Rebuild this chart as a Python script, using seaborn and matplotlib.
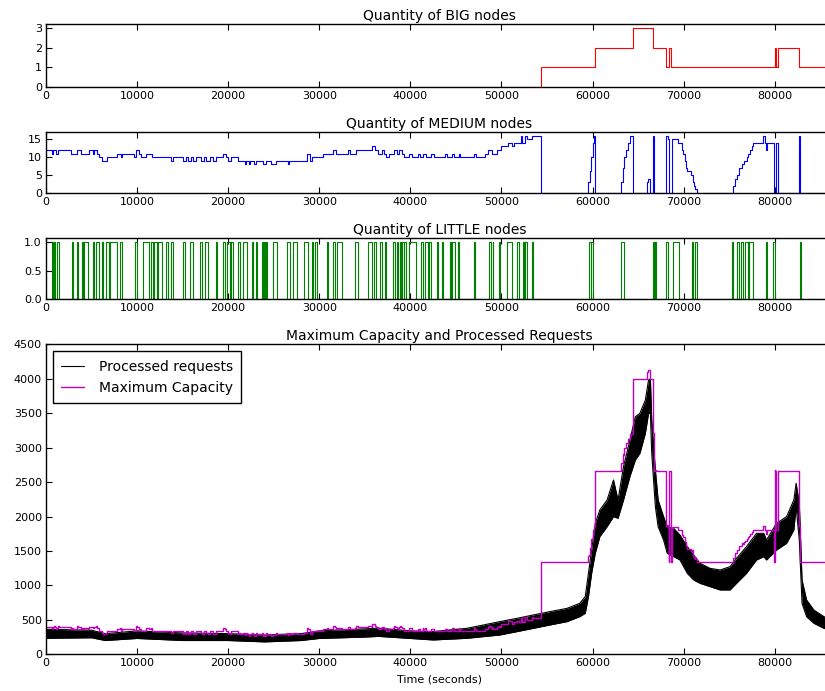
import numpy as np
import pandas as pd
import matplotlib
matplotlib.use('Agg')
import matplotlib.pyplot as plt
import seaborn as sns

# time axis (one day, seconds)
t_end = 86400

# BIG nodes: step change times and values
big_t = [0, 54300, 60320, 64420, 66690, 68040, 68450, 68650, 80000, 80150, 80350, 82720]
big_v = [0, 1, 2, 3, 2, 1, 2, 1, 2, 1, 2, 1]

# MEDIUM nodes: step change times and values
med_t = [0, 620, 800, 1100, 1350, 2750, 3440, 3810, 4760, 5120, 5270, 5560, 5860, 6150, 6660,
         7830, 8200, 8350, 9660, 9880, 10180, 10470, 10940, 11600, 13760, 13910, 15040, 15370,
         15560, 15890, 16100, 16500, 17000, 17400, 17600, 18000, 18300, 18700, 19400, 19800,
         20000, 20300, 21100, 21800, 22000, 22300, 22450, 22800, 23000, 23800, 24100, 24700,
         25200, 26600, 26700, 28700, 29000, 29200, 30400, 31550, 31800, 33100, 33400, 34000,
         35800, 36100, 36400, 36900, 37100, 37300, 37700, 38200, 38500, 38800, 39100, 39300,
         39900, 40200, 40800, 41100, 41400, 41700, 42300, 42600, 43800, 44000, 44600, 44800,
         45300, 45500, 47000, 47200, 48200, 48500, 49000, 49500, 50000, 50700, 51200, 51400,
         52100, 52300, 52600, 52800, 53400, 54300, 59550, 59700, 59850, 60000, 60150, 60320,
         63100, 63300, 63500, 63700, 63900, 64100, 64420, 65950, 66050, 66300, 66690, 66740,
         68040, 68300, 68440, 68700, 69360, 69800, 69950, 70100, 70270, 70420, 70790, 71010,
         71150, 71300, 71450, 75470, 75650, 75910, 76130, 76390, 76640, 76930, 77120, 77300,
         77480, 77670, 78690, 78950, 79060, 79130, 79970, 80150, 80350, 82720, 82760]
med_v = [12, 11, 12, 11, 12, 11, 12, 11, 12, 11, 12, 11, 10, 9, 10,
         11, 10, 11, 10, 12, 11, 10, 11, 10, 9, 10, 9, 10,
         9, 10, 9, 10, 9, 10, 9, 10, 9, 10, 11, 10,
         9, 10, 9, 8, 9, 8, 9, 8, 9, 8, 9, 8,
         9, 8, 9, 11, 9, 10, 11, 12, 11, 12, 11, 12,
         13, 12, 11, 12, 11, 10, 11, 12, 11, 12, 11, 10,
         11, 10, 11, 10, 11, 10, 11, 10, 11, 10, 11, 10,
         11, 10, 11, 10, 11, 12, 11, 12, 13, 14, 13, 14,
         16, 14, 16, 15, 16, 0, 3, 6, 10, 14, 16, 0,
         3, 7, 10, 12, 14, 16, 0, 3, 4, 0, 16, 0,
         16, 15, 0, 15, 14, 12, 11, 9, 7, 6, 5, 3,
         2, 1, 0, 2, 4, 5, 7, 8, 9, 10, 11, 12,
         13, 14, 16, 14, 12, 14, 0, 14, 0, 16, 0]

# LITTLE nodes: intervals (start, end) where one little node is active
little_on = [(620, 730), (880, 990), (1170, 1460), (2820, 2930), (3370, 3480), (3920, 4060),
             (4140, 4580), (5120, 5270), (5490, 5860), (6110, 6220), (6590, 6950), (7030, 7760),
             (8130, 8350), (9770, 9950), (10690, 11310), (11530, 11800), (11900, 12200),
             (12300, 12700), (13180, 13360), (13730, 13980), (15080, 15260), (15810, 16100),
             (16910, 17090), (17460, 17820), (18670, 18810), (19400, 19650), (19840, 20200),
             (20300, 20570), (21120, 21300), (21590, 22030), (22580, 22760), (23060, 23200),
             (23680, 23800), (23900, 24000), (24100, 24230), (24890, 25330), (26500, 26790),
             (27080, 27520), (28330, 28800), (29170, 29350), (29540, 29720), (30890, 31000),
             (31550, 31730), (31920, 32460), (33930, 34290), (35390, 35760), (36050, 36230),
             (36670, 36860), (37220, 37330), (38140, 38320), (38500, 38690), (38870, 39000),
             (39100, 39250), (39350, 39490), (39900, 40600), (41140, 41430), (41620, 41900),
             (42000, 42240), (42970, 43080), (43450, 43560), (44360, 44500), (44600, 44910),
             (45280, 45390), (47000, 47140), (48680, 48830), (49050, 49120), (49700, 49850),
             (50660, 51170), (51750, 51970), (52340, 52500), (52600, 52780), (53330, 53440),
             (59660, 59800), (59880, 60030), (63100, 63470), (66690, 66800), (66850, 66980),
             (68080, 68300), (68880, 69540), (70930, 71080), (71260, 71520), (75290, 75470),
             (75910, 76130), (76280, 76570), (76750, 77120), (77230, 77670), (79060, 79130),
             (79790, 80050), (82790, 82900)]

# capacity of one node of each type (requests)
cap_big = 1333
cap_medium = 33.3
cap_little = 11

# processed requests: band (upper / lower edge of the noisy trace)
req_t = [0, 5000, 6500, 10000, 15000, 20000, 24000, 28000, 30000, 35000,
         36500, 40000, 42500, 46200, 48000, 49800, 51700, 53500, 55300, 57200,
         58600, 59200, 59550, 59900, 60300, 60800, 61600, 62300, 62800, 63400,
         64100, 64700, 65200, 65800, 66150, 66350, 66500, 66900, 67200, 67800,
         68200, 68900, 69600, 70400, 71100, 71800, 72900, 74000, 75100, 75800,
         76900, 78000, 78800, 79100, 80200, 81300, 82100, 82350, 82700, 83000,
         83500, 84300, 85400, 86400]
req_hi = [363, 350, 300, 340, 310, 300, 280, 300, 340, 370,
          380, 340, 330, 377, 425, 474, 522, 571, 619, 667,
          740, 837, 1175, 1514, 1901, 2095, 2240, 2530, 2240, 2724,
          3110, 3449, 3498, 3691, 3982, 4000, 3400, 2675, 2240, 1998,
          1853, 1829, 1732, 1563, 1442, 1321, 1248, 1224, 1272, 1393,
          1563, 1756, 1756, 1659, 1901, 1998, 2240, 2482, 2192, 1079,
          789, 643, 547, 500]
req_lo = [232, 240, 200, 230, 200, 200, 180, 200, 230, 250,
          260, 230, 208, 232, 256, 280, 329, 377, 425, 474,
          547, 595, 837, 1175, 1466, 1708, 1853, 1998, 1974, 2240,
          2579, 2820, 2917, 3208, 3498, 3500, 2917, 2143, 1853, 1659,
          1466, 1418, 1369, 1175, 1079, 1030, 982, 934, 934, 1030,
          1175, 1369, 1418, 1369, 1514, 1611, 1805, 2143, 1659, 740,
          547, 450, 377, 340]


def steps(times, values):
    # extend a step series to the end of the day
    return list(times) + [t_end], list(values) + [values[-1]]


def step_lookup(times, values, grid):
    idx = np.searchsorted(np.asarray(times), grid, side='right') - 1
    return np.asarray(values)[idx]


little_t = [0]
little_v = [0]
for s, e in little_on:
    little_t += [s, e]
    little_v += [1, 0]

big_x, big_y = steps(big_t, big_v)
med_x, med_y = steps(med_t, med_v)
lit_x, lit_y = steps(little_t, little_v)

# maximum capacity from the node counts
grid = np.unique(np.concatenate([big_t, med_t, little_t]))
capacity = (cap_big * step_lookup(big_t, big_v, grid)
            + cap_medium * step_lookup(med_t, med_v, grid)
            + cap_little * step_lookup(little_t, little_v, grid))
cap_x, cap_y = steps(grid, capacity)

sns.set_style('white', rc={
    'axes.edgecolor': 'black', 'text.color': 'black', 'axes.labelcolor': 'black',
    'xtick.color': 'black', 'ytick.color': 'black',
    'xtick.direction': 'in', 'ytick.direction': 'in',
    'xtick.bottom': True, 'xtick.top': True, 'ytick.left': True, 'ytick.right': True,
})
plt.rcParams['font.family'] = ['DejaVu Sans']

fig = plt.figure(figsize=(8.25, 6.91), dpi=100)
W, H = 825.0, 691.0
left = 46 / W
width = (833 - 46) / W


def make_ax(top_px, bottom_px):
    return fig.add_axes([left, 1 - bottom_px / H, width, (bottom_px - top_px) / H])


ax1 = make_ax(24.3, 87)
ax2 = make_ax(131.7, 193)
ax3 = make_ax(238.3, 299.3)
ax4 = make_ax(344.3, 654.3)

lw = 0.8

sns.lineplot(x=big_x, y=big_y, ax=ax1, color='red', lw=lw, drawstyle='steps-post', errorbar=None)
ax1.set_ylim(0, 3.2)
ax1.set_yticks([0, 1, 2, 3])
ax1.set_title('Quantity of BIG nodes', fontsize=10, pad=3)

sns.lineplot(x=med_x, y=med_y, ax=ax2, color='blue', lw=lw, drawstyle='steps-post', errorbar=None)
ax2.set_ylim(0, 17.1)
ax2.set_yticks([0, 5, 10, 15])
ax2.set_title('Quantity of MEDIUM nodes', fontsize=10, pad=3)

sns.lineplot(x=lit_x, y=lit_y, ax=ax3, color='green', lw=lw, drawstyle='steps-post', errorbar=None)
ax3.set_ylim(0, 1.07)
ax3.set_yticks([0.0, 0.5, 1.0])
ax3.set_yticklabels(['0.0', '0.5', '1.0'])
ax3.set_title('Quantity of LITTLE nodes', fontsize=10, pad=3)

ax4.fill_between(req_t, req_lo, req_hi, color='black', lw=0)
sns.lineplot(x=req_t, y=req_hi, ax=ax4, color='black', lw=lw, errorbar=None, label='Processed requests')
sns.lineplot(x=req_t, y=req_lo, ax=ax4, color='black', lw=lw, errorbar=None)
sns.lineplot(x=cap_x, y=cap_y, ax=ax4, color=(0.75, 0, 0.75), lw=1, drawstyle='steps-post',
             errorbar=None, label='Maximum Capacity')
ax4.set_ylim(0, 4500)
ax4.set_yticks(range(0, 4501, 500))
ax4.set_title('Maximum Capacity and Processed Requests', fontsize=10, pad=3)
ax4.set_xlabel('Time (seconds)', fontsize=8, labelpad=4)
leg = ax4.legend(loc='upper left', fontsize=10, fancybox=False, frameon=True,
                 edgecolor='black', framealpha=1, borderaxespad=0.5,
                 handlelength=1.6, handletextpad=1.1, borderpad=0.6)
leg.get_frame().set_linewidth(1)

for ax in (ax1, ax2, ax3, ax4):
    ax.set_xlim(0, t_end)
    ax.set_xticks(range(0, 80001, 10000))
    ax.tick_params(labelsize=8, length=4, width=0.8, pad=3)
    for sp in ax.spines.values():
        sp.set_linewidth(1)
    if ax is not ax4:
        ax.set_xlabel('')

fig.savefig('out.png', dpi=100)
